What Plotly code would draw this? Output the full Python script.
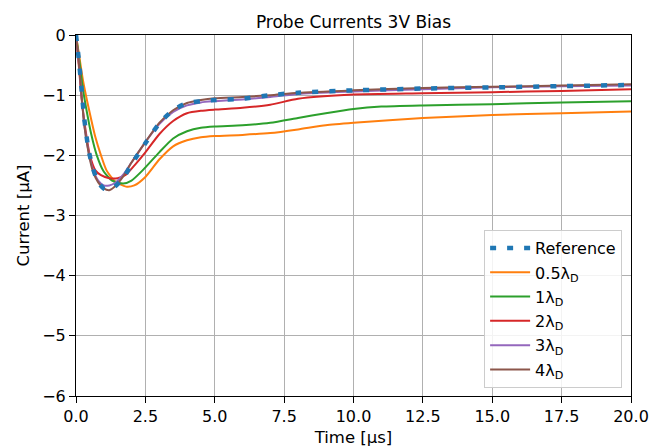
import plotly.graph_objects as go

# Reference
t_ref = [0, 0.1, 0.2, 0.3, 0.45, 0.6, 0.8, 1.0, 1.2, 1.4, 1.7, 2.0, 2.5, 3.0, 3.5, 4.0, 4.5, 5.0, 6.0, 7.0, 8.0, 10, 12.5, 15, 17.5, 20]
i_ref = [0, -0.4, -0.9, -1.4, -1.9, -2.2, -2.45, -2.55, -2.57, -2.52, -2.38, -2.15, -1.8, -1.47, -1.25, -1.13, -1.1, -1.08, -1.06, -1.0, -0.96, -0.92, -0.89, -0.87, -0.85, -0.83]

# 0.5 lambda_D
t_05 = [0, 0.1, 0.25, 0.45, 0.7, 0.9, 1.1, 1.4, 1.8, 2.1, 2.5, 3.0, 3.5, 4.0, 4.5, 5.0, 6.0, 7.0, 8.0, 9.0, 10, 12.5, 15, 17.5, 20]
i_05 = [0, -0.3, -0.75, -1.2, -1.7, -2.0, -2.25, -2.43, -2.52, -2.5, -2.36, -2.07, -1.85, -1.75, -1.7, -1.68, -1.66, -1.63, -1.57, -1.5, -1.46, -1.38, -1.33, -1.3, -1.27]

# 1 lambda_D
t_1 = [0, 0.1, 0.25, 0.4, 0.55, 0.75, 1.0, 1.3, 1.7, 2.0, 2.4, 3.0, 3.5, 4.0, 4.5, 5.0, 6.0, 7.0, 8.0, 9.0, 10, 11, 12.5, 15, 17.5, 20]
i_1 = [0, -0.35, -0.9, -1.3, -1.65, -2.0, -2.27, -2.42, -2.47, -2.42, -2.25, -1.95, -1.72, -1.6, -1.54, -1.52, -1.5, -1.46, -1.38, -1.3, -1.23, -1.19, -1.17, -1.15, -1.12, -1.1]

# 2 lambda_D
t_2 = [0, 0.1, 0.2, 0.35, 0.5, 0.7, 0.9, 1.2, 1.5, 1.8, 2.1, 2.5, 3.0, 3.5, 4.0, 4.5, 5.0, 6.0, 7.0, 8.0, 10, 12.5, 15, 17.5, 20]
i_2 = [0, -0.5, -1.05, -1.6, -2.0, -2.25, -2.33, -2.38, -2.38, -2.32, -2.17, -1.95, -1.65, -1.43, -1.3, -1.26, -1.24, -1.21, -1.16, -1.06, -0.99, -0.97, -0.95, -0.93, -0.9]

# 3 lambda_D
t_3 = [0, 0.1, 0.2, 0.3, 0.45, 0.6, 0.8, 1.0, 1.2, 1.4, 1.7, 2.0, 2.5, 3.0, 3.5, 4.0, 4.5, 5.0, 6.0, 7.0, 8.0, 10, 12.5, 15, 17.5, 20]
i_3 = [0, -0.45, -1.0, -1.5, -1.93, -2.22, -2.42, -2.5, -2.5, -2.46, -2.32, -2.12, -1.78, -1.48, -1.28, -1.17, -1.12, -1.1, -1.07, -1.03, -0.98, -0.94, -0.9, -0.87, -0.85, -0.84]

# 4 lambda_D
t_4 = [0, 0.1, 0.2, 0.3, 0.45, 0.6, 0.8, 1.0, 1.2, 1.4, 1.7, 2.0, 2.5, 3.0, 3.5, 4.0, 4.5, 5.0, 6.0, 7.0, 8.0, 10, 12.5, 15, 17.5, 20]
i_4 = [0, -0.45, -1.0, -1.5, -1.95, -2.25, -2.45, -2.55, -2.58, -2.52, -2.35, -2.12, -1.78, -1.46, -1.25, -1.13, -1.08, -1.05, -1.03, -1.0, -0.96, -0.92, -0.88, -0.86, -0.84, -0.82]

x_ticks = [0, 2.5, 5, 7.5, 10, 12.5, 15, 17.5, 20]
x_labels = ["0.0", "2.5", "5.0", "7.5", "10.0", "12.5", "15.0", "17.5", "20.0"]
y_ticks = [0, -1, -2, -3, -4, -5, -6]
y_labels = ["0", "\u22121", "\u22122", "\u22123", "\u22124", "\u22125", "\u22126"]

series = [
    (t_ref, i_ref, "Reference", "#1f77b4"),
    (t_05, i_05, "0.5\u03bb<sub>D</sub>", "#ff7f0e"),
    (t_1, i_1, "1\u03bb<sub>D</sub>", "#2ca02c"),
    (t_2, i_2, "2\u03bb<sub>D</sub>", "#d62728"),
    (t_3, i_3, "3\u03bb<sub>D</sub>", "#9467bd"),
    (t_4, i_4, "4\u03bb<sub>D</sub>", "#8c564b"),
]

fig = go.Figure()
# solid lines first (drawn below), reference on top
for k, (t, i, name, c) in enumerate(series):
    if k == 0:
        continue
    fig.add_trace(go.Scatter(x=t, y=i, mode="lines", name=name, legendgroup="g%d" % k,
                             legendrank=k + 1,
                             line=dict(color=c, width=2, shape="spline", smoothing=0.6)))
t, i, name, c = series[0]
fig.add_trace(go.Scatter(x=t, y=i, mode="lines", name=name, legendgroup="g0", legendrank=0,
                         line=dict(color=c, width=4.5, dash="6px,11px", shape="spline", smoothing=0.6)))

font = "DejaVu Sans"
# the page body has an 8px margin, so the figure is 8px smaller than the window
fig.update_layout(
    width=657, height=440,
    margin=dict(l=68, r=34, t=27, b=52),
    paper_bgcolor="white", plot_bgcolor="white",
    font=dict(family=font, size=16, color="black"),
    title=dict(text="Probe Currents 3V Bias", x=0.5, xref="paper", xanchor="center",
               y=1, yref="paper", yanchor="bottom", pad=dict(b=7),
               font=dict(family=font, size=17, color="black")),
    showlegend=True,
    legend=dict(x=0.984, y=0.022, xanchor="right", yanchor="bottom",
                bgcolor="rgba(255,255,255,0.85)", bordercolor="#cccccc", borderwidth=1,
                font=dict(family=font, size=16), tracegroupgap=0.5, itemwidth=40,
                traceorder="grouped"),
)
fig.update_xaxes(range=[0, 20], tickvals=x_ticks, ticktext=x_labels, automargin=False,
                 showgrid=True, gridcolor="#b0b0b0", gridwidth=1,
                 showline=True, linecolor="black", linewidth=1, mirror=True,
                 ticks="outside", ticklen=6, tickcolor="black",
                 zeroline=False, tickfont=dict(size=16),
                 title=dict(text="Time [\u03bcs]", font=dict(family=font, size=16.5), standoff=6))
fig.update_yaxes(range=[-6, 0], tickvals=y_ticks, ticktext=y_labels, automargin=False,
                 showgrid=True, gridcolor="#b0b0b0", gridwidth=1,
                 showline=True, linecolor="black", linewidth=1, mirror=True,
                 ticks="outside", ticklen=6, tickcolor="black",
                 zeroline=False, tickfont=dict(size=16),
                 title=dict(text="Current [\u03bcA]", font=dict(family=font, size=16.5), standoff=8))

fig.write_html("out.html")
